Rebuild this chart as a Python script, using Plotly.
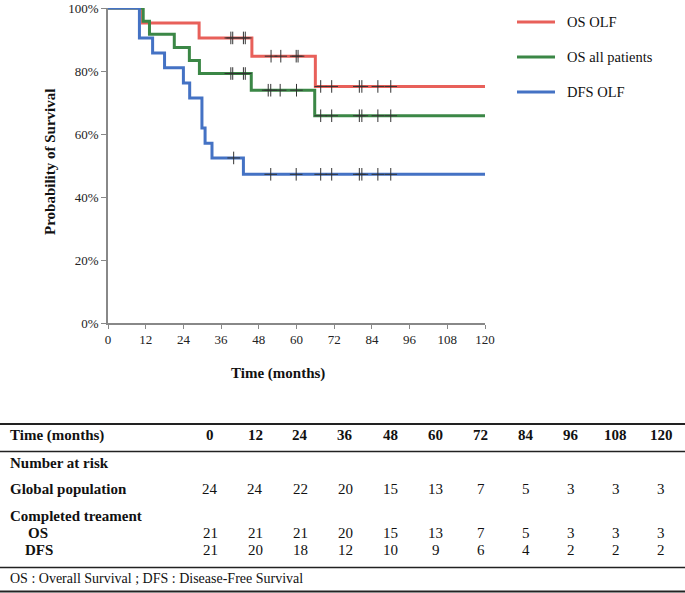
import plotly.graph_objects as go

# ---------------- data ----------------
# Kaplan-Meier step curves (time in months, survival probability)
os_olf_t = [0, 11, 29, 45.8, 66, 120]
os_olf_s = [1.0, 0.952, 0.905, 0.847, 0.751, 0.751]
os_olf_cens_t = [39.1, 39.7, 43.1, 43.7, 51.9, 55.0, 59.9, 60.5, 67.7, 71.2, 80.0, 80.8, 85.9, 90.0]
os_olf_cens_s = [0.905, 0.905, 0.905, 0.905, 0.847, 0.847, 0.847, 0.847, 0.751, 0.751, 0.751, 0.751, 0.751, 0.751]

os_all_t = [0, 11.2, 13.2, 21.1, 25.9, 29.1, 45.6, 65.8, 120]
os_all_s = [1.0, 0.958, 0.917, 0.875, 0.833, 0.792, 0.739, 0.658, 0.658]
os_all_cens_t = [39.1, 39.7, 43.1, 43.7, 51.0, 51.8, 54.8, 60.0, 67.7, 71.2, 80.0, 80.8, 85.9, 90.0]
os_all_cens_s = [0.792, 0.792, 0.792, 0.792, 0.739, 0.739, 0.739, 0.739, 0.658, 0.658, 0.658, 0.658, 0.658, 0.658]

dfs_olf_t = [0, 10, 14.2, 18, 24, 26, 29.9, 30.9, 33.1, 43.1, 120]
dfs_olf_s = [1.0, 0.905, 0.857, 0.81, 0.762, 0.714, 0.619, 0.571, 0.524, 0.472, 0.472]
dfs_olf_cens_t = [40.0, 51.8, 59.9, 67.7, 71.2, 80.0, 80.8, 85.9, 90.0]
dfs_olf_cens_s = [0.524, 0.472, 0.472, 0.472, 0.472, 0.472, 0.472, 0.472, 0.472]

series_names = ["OS OLF", "OS all patients", "DFS OLF"]
series_colors = ["#E8605A", "#3B8746", "#4472C4"]

# x / y ticks
x_ticks = [0, 12, 24, 36, 48, 60, 72, 84, 96, 108, 120]
y_ticks = [0, 0.2, 0.4, 0.6, 0.8, 1.0]
y_tick_labels = ["0%", "20%", "40%", "60%", "80%", "100%"]

# number-at-risk table
table_times = [0, 12, 24, 36, 48, 60, 72, 84, 96, 108, 120]
global_population = [24, 24, 22, 20, 15, 13, 7, 5, 3, 3, 3]
completed_os = [21, 21, 21, 20, 15, 13, 7, 5, 3, 3, 3]
completed_dfs = [21, 20, 18, 12, 10, 9, 6, 4, 2, 2, 2]

# ---------------- figure ----------------
W, H = 685, 593
FONT = "Liberation Serif, Times New Roman, serif"

def px(x):
    return x / W

def py(y):
    return 1 - y / H

fig = go.Figure()

curves = [
    (os_olf_t, os_olf_s, os_olf_cens_t, os_olf_cens_s),
    (os_all_t, os_all_s, os_all_cens_t, os_all_cens_s),
    (dfs_olf_t, dfs_olf_s, dfs_olf_cens_t, dfs_olf_cens_s),
]
for (t, s, ct, cs), name, col in zip(curves, series_names, series_colors):
    fig.add_trace(go.Scatter(x=t, y=s, mode="lines", line=dict(color=col, width=3, shape="hv"),
                             name=name, showlegend=False, hoverinfo="skip"))
for (t, s, ct, cs), name, col in zip(curves, series_names, series_colors):
    fig.add_trace(go.Scatter(x=ct, y=cs, mode="markers",
                             marker=dict(symbol="cross-thin-open", size=9, color="#333333",
                                         line=dict(color="#333333", width=1)),
                             showlegend=False, hoverinfo="skip"))

x0, x1 = 108, 485
y0, y1 = 8, 323
fig.update_layout(
    template="none",
    width=W, height=H,
    margin=dict(l=0, r=0, t=0, b=0, pad=0),
    paper_bgcolor="white", plot_bgcolor="white",
    font=dict(family=FONT, color="#222222", size=13),
    xaxis=dict(domain=[px(x0), px(x1)], range=[0, 120], tickvals=x_ticks,
               ticktext=[str(v) for v in x_ticks], automargin=False, ticklabeloverflow="allow",
               showgrid=False, zeroline=False, showline=True, linecolor="#888888", linewidth=1.5,
               ticks="outside", ticklen=4, tickcolor="#888888", tickwidth=1,
               tickfont=dict(family=FONT, size=13, color="#222222")),
    yaxis=dict(domain=[py(y1), py(y0)], range=[0, 1], tickvals=y_ticks, ticktext=y_tick_labels,
               automargin=False, ticklabeloverflow="allow",
               showgrid=False, zeroline=False, showline=True, linecolor="#888888", linewidth=1.5,
               ticks="outside", ticklen=5, tickcolor="#888888", tickwidth=1,
               tickfont=dict(family=FONT, size=13, color="#222222")),
)

annotations = []
shapes = []

# axis titles
annotations.append(dict(x=px(50), y=py(162), xref="paper", yref="paper", text="<b>Probability of Survival</b>",
                        textangle=-90, showarrow=False, font=dict(family=FONT, size=15, color="#111111"),
                        xanchor="center", yanchor="middle"))
annotations.append(dict(x=px(278), y=py(373), xref="paper", yref="paper", text="<b>Time (months)</b>",
                        showarrow=False, font=dict(family=FONT, size=15, color="#111111"),
                        xanchor="center", yanchor="middle"))

# legend (manual)
legend_y = [22, 57, 92]
for name, col, ly in zip(series_names, series_colors, legend_y):
    shapes.append(dict(type="line", xref="paper", yref="paper", x0=px(517), x1=px(555),
                       y0=py(ly), y1=py(ly), line=dict(color=col, width=3)))
    annotations.append(dict(x=px(565), y=py(ly), xref="paper", yref="paper", text=name,
                            showarrow=False, font=dict(family=FONT, size=14.5, color="#111111"),
                            xanchor="left", yanchor="middle"))

# table
def hline(y, w):
    shapes.append(dict(type="line", xref="paper", yref="paper", x0=0, x1=1,
                       y0=py(y), y1=py(y), line=dict(color="#222222", width=w)))

hline(424, 2)
hline(451.5, 1.5)
hline(567.5, 1.5)
hline(591.5, 2)

def txt(x, y, s, bold=False, anchor="left", size=15):
    annotations.append(dict(x=px(x), y=py(y), xref="paper", yref="paper",
                            text=f"<b>{s}</b>" if bold else s, showarrow=False,
                            font=dict(family=FONT, size=size, color="#111111"),
                            xanchor=anchor, yanchor="middle"))

txt(8, 435, "Time (months)", bold=True)
txt(8, 463, "Number at risk", bold=True)
txt(8, 489, "Global population", bold=True)
txt(8, 515.5, "Completed treament", bold=True)
txt(26, 533, "OS", bold=True)
txt(23, 550, "DFS", bold=True)
txt(8, 578, "OS : Overall Survival ; DFS : Disease-Free Survival", size=14)

for i, tv in enumerate(table_times):
    cx = 210 + i * 45.1
    txt(cx, 435, str(tv), bold=True, anchor="center")
    txt(cx, 489, str(global_population[i]), anchor="center")
    txt(cx, 533, str(completed_os[i]), anchor="center")
    txt(cx, 550, str(completed_dfs[i]), anchor="center")

fig.update_layout(annotations=annotations, shapes=shapes)
fig.write_html("out.html", config={"displayModeBar": False},
               post_script="document.body.style.margin='0';document.body.style.overflow='hidden';")
